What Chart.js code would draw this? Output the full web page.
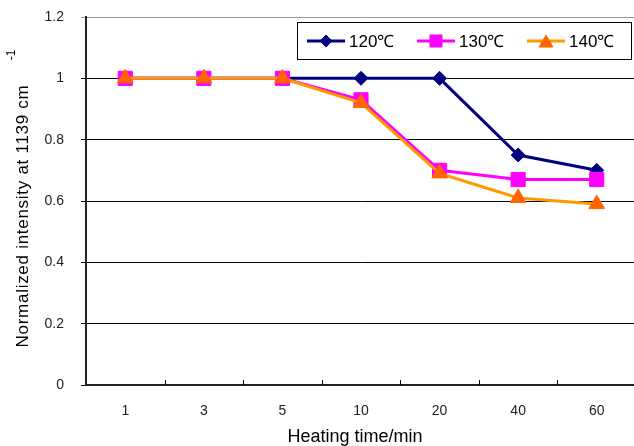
<!DOCTYPE html>
<html>
<head>
<meta charset="utf-8">
<script src="https://cdn.jsdelivr.net/npm/chart.js@4/dist/chart.umd.min.js"></script>
<style>
html, body { margin: 0; padding: 0; background: #fff; overflow: hidden; }
#wrap { width: 647px; height: 446px; }
</style>
</head>
<body>
<div id="wrap"><canvas id="chart" width="647" height="446"></canvas></div>
<script>
// heating time categories and normalized intensities per temperature
const times = ['1', '3', '5', '10', '20', '40', '60'];
const temps = ['120℃', '130℃', '140℃'];
const int120 = [1, 1, 1, 1, 1, 0.75, 0.70];
const int130 = [1, 1, 1, 0.93, 0.70, 0.67, 0.67];
const int140 = [1, 1, 1, 0.92, 0.69, 0.61, 0.59];

const FONT = '"Liberation Sans", Arial, sans-serif';
Chart.defaults.font.family = FONT;

const styles = [
  { line: '#000080', fill: '#000080', shape: 'rectRot', r: 7, lr: 6 },
  { line: '#FF00FF', fill: '#FF00FF', shape: 'rect', r: 10, lr: 8.5 },
  { line: '#FF9900', fill: '#FF6600', shape: 'triangle', r: 9, lr: 8 }
];

// legend box inside the plot, axis titles, inner tick marks
const extras = {
  id: 'extras',
  afterDraw(chart) {
    const { ctx, chartArea: a } = chart;
    const x = chart.scales.x;
    ctx.save();

    // small tick marks pointing up between categories
    ctx.strokeStyle = '#000';
    ctx.lineWidth = 1;
    for (let i = 0; i < times.length - 1; i++) {
      const px = Math.round((x.getPixelForValue(i) + x.getPixelForValue(i + 1)) / 2) + 0.5;
      ctx.beginPath();
      ctx.moveTo(px, a.bottom - 5);
      ctx.lineTo(px, a.bottom);
      ctx.stroke();
    }

    // x axis title
    ctx.fillStyle = '#000';
    ctx.font = '18px ' + FONT;
    ctx.textAlign = 'center';
    ctx.textBaseline = 'middle';
    ctx.fillText('Heating time/min', (a.left + a.right) / 2 - 6, 437);

    // y axis title, spaced out like the original
    ctx.save();
    ctx.translate(23, 216);
    ctx.rotate(-Math.PI / 2);
    ctx.font = '17px ' + FONT;
    const ytxt = 'Normalized intensity at 1139 cm';
    const w0 = ctx.measureText(ytxt).width;
    ctx.letterSpacing = ((263 - w0) / ytxt.length).toFixed(2) + 'px';
    ctx.fillText(ytxt, 0, 0);
    ctx.letterSpacing = '0px';
    ctx.font = '12px ' + FONT;
    ctx.fillText('-1', 161, -11);
    ctx.restore();

    // legend
    const bx = a.left + 211, by = a.top + 5, bw = 334, bh = 37;
    ctx.fillStyle = '#fff';
    ctx.fillRect(bx, by, bw, bh);
    ctx.strokeStyle = '#000';
    ctx.strokeRect(bx + 0.5, by + 0.5, bw, bh);
    const cy = by + 19;
    const starts = [10, 120, 230];
    temps.forEach((t, i) => {
      const s = styles[i];
      const lx = bx + starts[i];
      ctx.strokeStyle = s.line;
      ctx.lineWidth = 3;
      ctx.beginPath();
      ctx.moveTo(lx, cy);
      ctx.lineTo(lx + 38, cy);
      ctx.stroke();
      ctx.fillStyle = s.fill;
      ctx.strokeStyle = s.fill;
      ctx.lineWidth = 1;
      Chart.helpers.drawPoint(ctx, { pointStyle: s.shape, radius: s.lr, rotation: 0, borderWidth: 1 }, lx + 19, cy + (s.shape === 'triangle' ? 2 : 0));
      ctx.fillStyle = '#000';
      ctx.font = '17px ' + FONT;
      ctx.textAlign = 'left';
      ctx.fillText(t, lx + 42, cy + 1);
    });
    ctx.restore();
  }
};

const series = [int120, int130, int140];

new Chart(document.getElementById('chart'), {
  type: 'line',
  data: {
    labels: times,
    datasets: series.map((d, i) => ({
      label: temps[i],
      data: d,
      borderColor: styles[i].line,
      backgroundColor: styles[i].fill,
      pointBackgroundColor: styles[i].fill,
      pointBorderColor: styles[i].fill,
      pointStyle: styles[i].shape,
      pointRadius: styles[i].r,
      pointBorderWidth: 1,
      borderWidth: 3,
      tension: 0,
      order: 3 - i
    }))
  },
  options: {
    responsive: false,
    animation: false,
    layout: { padding: { top: 17, right: 3, left: 0, bottom: 0 } },
    plugins: { legend: { display: false }, tooltip: { enabled: false } },
    scales: {
      x: {
        type: 'category',
        offset: true,
        ticks: { padding: 18, color: '#222', font: { size: 14 }, maxRotation: 0, autoSkip: false },
        grid: { drawOnChartArea: false, drawTicks: false, offset: true },
        border: { color: '#222', width: 2 },
        afterFit: s => { s.height = 61; s.paddingLeft = 0; s.paddingRight = 0; }
      },
      y: {
        min: 0,
        max: 1.2,
        ticks: {
          stepSize: 0.2,
          padding: 17,
          color: '#222',
          font: { size: 14 },
          callback: v => String(Math.round(v * 10) / 10)
        },
        grid: {
          color: c => (c.tick && c.tick.value > 1.19 ? '#999' : '#000'),
          lineWidth: 1,
          tickLength: 5
        },
        border: { color: '#222', width: 2 },
        afterFit: s => { s.width = 86; s.paddingTop = 0; s.paddingBottom = 0; }
      }
    }
  },
  plugins: [extras]
});
</script>
</body>
</html>
